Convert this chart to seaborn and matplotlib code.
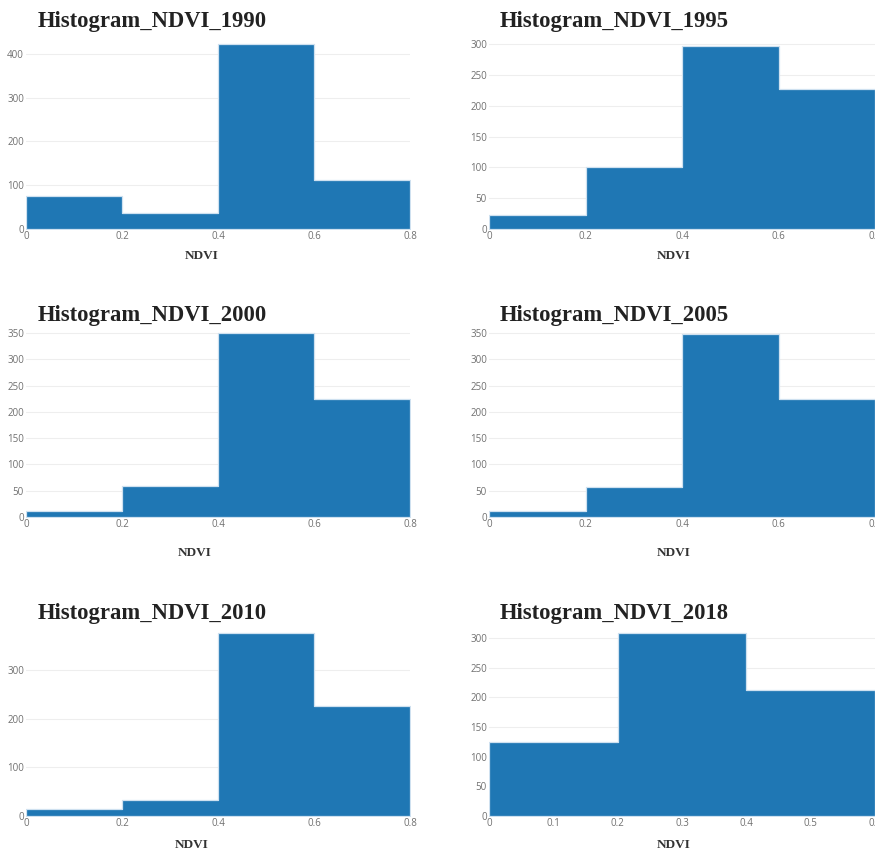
import numpy as np
import pandas as pd
import matplotlib
matplotlib.use("Agg")
import matplotlib.pyplot as plt
import seaborn as sns

# ---- data ----
years = ["1990", "1995", "2000", "2005", "2010", "2018"]
edges_default = [0.0, 0.2, 0.4, 0.6, 0.8]
edges_2018 = [0.0, 0.2, 0.4, 0.6]
counts_1990 = [76, 37, 422, 111]
counts_1995 = [22, 100, 297, 227]
counts_2000 = [12, 59, 350, 225]
counts_2005 = [12, 58, 349, 225]
counts_2010 = [15, 32, 376, 226]
counts_2018 = [125, 308, 212]
yticks_1990 = [0, 100, 200, 300, 400]
yticks_1995 = [0, 50, 100, 150, 200, 250, 300]
yticks_2000 = [0, 50, 100, 150, 200, 250, 300, 350]
yticks_2005 = [0, 50, 100, 150, 200, 250, 300, 350]
yticks_2010 = [0, 100, 200, 300]
yticks_2018 = [0, 50, 100, 150, 200, 250, 300]
xticks_default = [0, 0.2, 0.4, 0.6, 0.8]
xticklabels_default = ["0", "0.2", "0.4", "0.6", "0.8"]
xticks_2018 = [0, 0.1, 0.2, 0.3, 0.4, 0.5, 0.6]
xticklabels_2018 = ["0", "0.1", "0.2", "0.3", "0.4", "0.5", "0.6"]

panels = [
    ("1990", edges_default, counts_1990, yticks_1990, xticks_default, xticklabels_default),
    ("1995", edges_default, counts_1995, yticks_1995, xticks_default, xticklabels_default),
    ("2000", edges_default, counts_2000, yticks_2000, xticks_default, xticklabels_default),
    ("2005", edges_default, counts_2005, yticks_2005, xticks_default, xticklabels_default),
    ("2010", edges_default, counts_2010, yticks_2010, xticks_default, xticklabels_default),
    ("2018", edges_2018, counts_2018, yticks_2018, xticks_2018, xticklabels_2018),
]

sns.set_theme(style="white")
plt.rcParams["font.family"] = ["Open Sans", "DejaVu Sans"]

W, H = 875, 851
fig = plt.figure(figsize=(W / 100, H / 100), dpi=100)

# layout in pixels: (left, right) per column, (top, bottom) per row
cols = [(26, 410), (489, 875)]
rows = [(43, 229), (332, 517), (632, 816)]
title_y = [22, 315, 613]
title_x = [38, 500]
xlabel_pos = [
    [(0.458, -0.114), (0.477, -0.114)],
    [(0.440, -0.162), (0.477, -0.162)],
    [(0.432, -0.126), (0.477, -0.126)],
]

bar_color = "#1f77b4"
tick_color = "#707070"

for i, (year, edges, counts, yticks, xticks, xtl) in enumerate(panels):
    r, c = divmod(i, 2)
    l, rr = cols[c]
    t, b = rows[r]
    ax = fig.add_axes([l / W, 1 - b / H, (rr - l) / W, (b - t) / H])
    edges_arr = np.array(edges)
    centers = (edges_arr[:-1] + edges_arr[1:]) / 2
    df = pd.DataFrame({"NDVI": centers, "count": counts})
    sns.histplot(data=df, x="NDVI", weights="count", bins=edges, ax=ax,
                 element="step", fill=True,
                 color=bar_color, alpha=1.0, edgecolor="#cfe1f0", linewidth=0.9,
                 zorder=2)
    ax.set_xlim(edges[0], edges[-1])
    ymax = max(max(counts), max(yticks)) * 1.006
    ax.set_ylim(0, ymax)
    ax.set_yticks(yticks)
    ax.set_yticklabels([str(v) for v in yticks])
    ax.set_xticks(xticks)
    ax.set_xticklabels(xtl)
    ax.tick_params(axis="both", length=0, labelsize=7, labelcolor=tick_color, pad=1.5)
    ax.grid(axis="y", color="#eeeeee", linewidth=0.8, zorder=0)
    ax.grid(axis="x", visible=False)
    ax.set_axisbelow(True)
    for s in ax.spines.values():
        s.set_visible(False)
    ax.set_ylabel("")
    ax.set_xlabel("NDVI", fontfamily="Liberation Serif", fontweight="bold",
                  fontsize=9.5, color="#333333")
    lx, ly = xlabel_pos[r][c]
    ax.xaxis.set_label_coords(lx, ly)
    fig.text(title_x[c] / W, 1 - title_y[r] / H, "Histogram_NDVI_" + year,
             fontfamily="Liberation Serif", fontweight="bold", fontsize=16.3,
             color="#222222", ha="left", va="center")

fig.savefig("out.png", dpi=100, facecolor="white")
